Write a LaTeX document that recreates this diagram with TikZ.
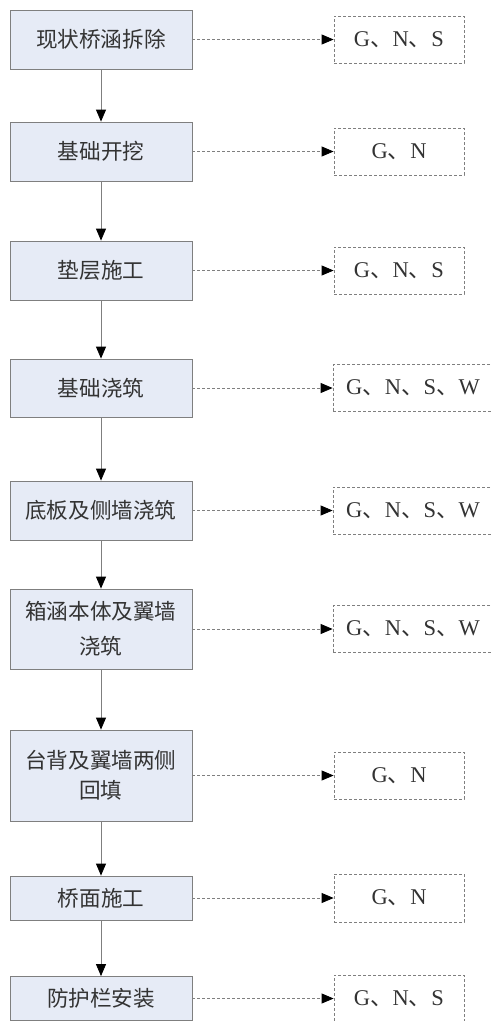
\documentclass[tikz,border=0pt]{standalone}
\usepackage{fontspec}
\setmainfont{Liberation Serif}
\newfontfamily\cjk{Noto Sans CJK SC}
\usetikzlibrary{arrows.meta}
\definecolor{boxfill}{HTML}{E6EBF6}
\definecolor{linegray}{HTML}{7F7F7F}
\definecolor{txt}{HTML}{333333}
\newcommand{\dn}{{\cjk 、}}
\begin{document}
\begin{tikzpicture}[x=1pt,y=-1pt,
  proc/.style={draw=linegray, fill=boxfill, line width=0.8pt, minimum width=182pt, inner sep=0pt,
    font=\cjk\fontsize{21.6}{25}\selectfont, text=txt, align=center},
  outbox/.style={draw=linegray, dash pattern=on 3pt off 2pt, line width=0.8pt, minimum width=130pt,
    minimum height=47pt, inner sep=0pt, font=\fontsize{22.5}{25}\selectfont, text=txt},
  widebox/.style={outbox, minimum width=160pt},
  flow/.style={draw=linegray, line width=0.8pt, -{Triangle[length=12pt,width=10pt,fill=black,color=black]}},
  emit/.style={flow, dash pattern=on 3pt off 2pt}]
\useasboundingbox (0,0) rectangle (491,1021);
\clip (0,0) rectangle (491,1021);

\node[proc, minimum height=59pt] (p1) at (101,39.5) {现状桥涵拆除};
\node[proc, minimum height=59pt] (p2) at (101,151.5) {基础开挖};
\node[proc, minimum height=59pt] (p3) at (101,270.5) {垫层施工};
\node[proc, minimum height=58pt] (p4) at (101,388) {基础浇筑};
\node[proc, minimum height=59pt] (p5) at (101,510.5) {底板及侧墙浇筑};
\node[proc, minimum height=80pt] (p6) at (101,629) {箱涵本体及翼墙\\[10pt]浇筑};
\node[proc, minimum height=91pt] (p7) at (101,775.5) {台背及翼墙两侧\\[5pt]回填};
\node[proc, minimum height=44pt] (p8) at (101,898) {桥面施工};
\node[proc, minimum height=44pt] (p9) at (101,998.5) {防护栏安装};

\node[outbox] (o1) at (399,39.5) {G\dn N\dn S};
\node[outbox] (o2) at (399,151.5) {G\dn N};
\node[outbox] (o3) at (399,270.5) {G\dn N\dn S};
\node[widebox] (o4) at (413,388) {G\dn N\dn S\dn W};
\node[widebox] (o5) at (413,510.5) {G\dn N\dn S\dn W};
\node[widebox] (o6) at (413,629) {G\dn N\dn S\dn W};
\node[outbox] (o7) at (399,775.5) {G\dn N};
\node[outbox, minimum height=48pt] (o8) at (399,898) {G\dn N};
\node[outbox] (o9) at (399,998.5) {G\dn N\dn S};

\foreach \a/\b in {p1/p2,p2/p3,p3/p4,p4/p5,p5/p6,p6/p7,p7/p8,p8/p9}
  \draw[flow] (\a.south) -- (\b.north);
\foreach \i in {1,...,9}
  \draw[emit] (p\i.east) -- (o\i.west);
\end{tikzpicture}
\end{document}
